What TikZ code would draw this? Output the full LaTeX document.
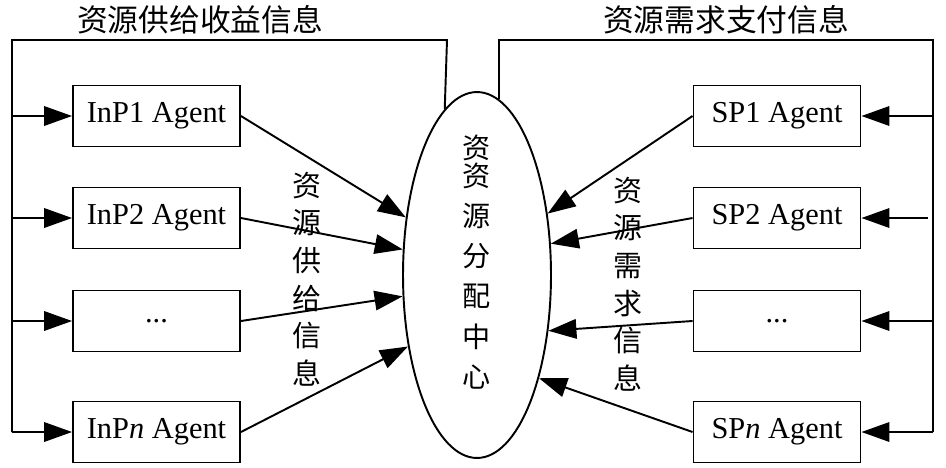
\documentclass[tikz,border=0pt]{standalone}
\usepackage{fontspec}
\setmainfont{Liberation Serif}
\newfontfamily\cjk{Noto Sans CJK SC}
\usetikzlibrary{positioning, shapes, arrows.meta}

\begin{document}
\begin{tikzpicture}[
    x=0.02cm, y=-0.02cm,
    every node/.style={align=center,font=\fontsize{17.3}{20}\selectfont},
    agent/.style={draw, line width=1.1pt, minimum width=3.34cm, minimum height=1.22cm, inner sep=0pt},
    vlabel/.style={font=\cjk\fontsize{16.5}{21.4}\selectfont},
    toplabel/.style={font=\cjk\fontsize{17.5}{20}\selectfont},
    line width=1.1pt,
    >={Triangle[length=5.6mm,width=3.9mm]}
]
    \useasboundingbox (0,0) rectangle (946,467);

    \def\leftX{12}
    \def\rightX{933}
    \def\topY{40}
    \def\bottomY{432}
    \def\dotstxt{...}

    % resource allocation centre
    \node[ellipse, draw, minimum width=2.96cm, minimum height=7.32cm, inner sep=0pt] (hub) at (477,275) {};
    \node[font=\cjk\fontsize{16}{22.8}\selectfont] (hubtxt) at (477,262)
        {资\\[-6.8pt]资\\源\\分\\配\\中\\心};

    % InP side
    \foreach \name/\yy/\txt/\ang in {
        inp1/116/{InP1 Agent}/141.6,
        inp2/218/{InP2 Agent}/161.6,
        inp3/321/{\dotstxt}/196.6,
        inpn/432/{InP\textit{n} Agent}/226.2
    }{
        \node[agent] (\name) at (156.5,\yy) {\txt};
        \coordinate (\name-in) at (\leftX,\yy);
        \draw[->] (\name-in) -- (\name.west);
        \draw[->] (\name.east) -- (hub.\ang);
    }

    % SP side
    \foreach \name/\yy/\txt/\ang/\xs in {
        sp1/116/{SP1 Agent}/41.6/\rightX,
        sp2/218/{SP2 Agent}/23.7/928,
        sp3/321/{\dotstxt}/-38.5/\rightX,
        spn/432/{SP\textit{n} Agent}/-59.1/\rightX
    }{
        \node[agent] (\name) at (777,\yy) {\txt};
        \coordinate (\name-in) at (\xs,\yy);
        \draw[->] (\name-in) -- (\name.east);
        \draw[->] (\name.west) -- (hub.\ang);
    }

    % feedback loops
    \coordinate (ltop) at (447,\topY);
    \coordinate (lcorner) at (\leftX,\topY);
    \coordinate (lend) at (\leftX,\bottomY);
    \draw (hub.101.8) -- (ltop) -- (lcorner) -- (lend);

    \coordinate (rcorner) at (\rightX,\topY);
    \coordinate (rend) at (\rightX,\bottomY);
    \draw (hub.83.2) |- (rcorner) -- (rend);

    \node[toplabel] (supplyfee) at (200,20) {资源供给收益信息};
    \node[toplabel] (demandpay) at (726,20) {资源需求支付信息};

    \node[vlabel] (supplyinfo) at (307,279) {资\\源\\供\\给\\信\\息};
    \node[vlabel] (demandinfo) at (628,284) {资\\源\\需\\求\\信\\息};
\end{tikzpicture}
\end{document}
